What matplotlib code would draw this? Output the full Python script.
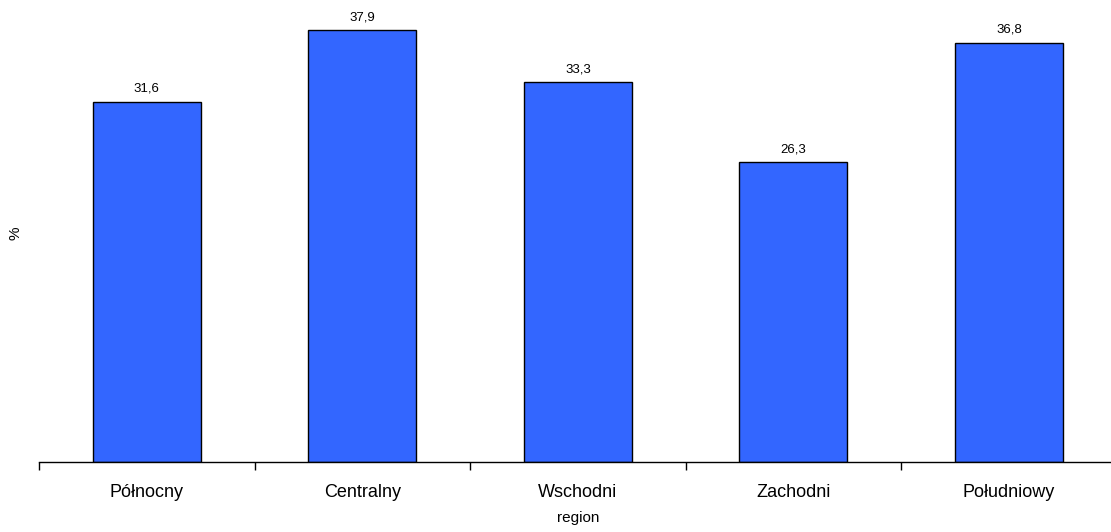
import numpy as np
import matplotlib.pyplot as plt

regions = ['Północny', 'Centralny', 'Wschodni', 'Zachodni', 'Południowy']
values = [31.6, 37.9, 33.3, 26.3, 36.8]

plt.rcParams['font.family'] = ['Liberation Sans', 'DejaVu Sans']

fig = plt.figure(figsize=(11.11, 5.32), dpi=100)
ax = fig.add_axes([0.0351, 0.1316, 0.970, 0.857])

x = np.arange(len(regions))
bars = ax.bar(x, values, width=0.5, color='#3366FF', edgecolor='black', linewidth=1.0)

for xi, v in zip(x, values):
    ax.annotate(f'{v:.1f}'.replace('.', ','), (xi, v), xytext=(0, 5),
                textcoords='offset points', ha='center', va='bottom', fontsize=9.5)

ax.set_xlim(-0.5, len(regions) - 0.5)
ax.set_ylim(0, 40)

for s in ['top', 'right', 'left']:
    ax.spines[s].set_visible(False)
ax.spines['bottom'].set_linewidth(1.0)
ax.set_yticks([])

ax.set_xticks(x)
ax.set_xticklabels(regions, fontsize=13)
ax.tick_params(axis='x', which='major', length=0, pad=16)
ax.set_xticks(np.arange(-0.5, len(regions)), minor=True)
ax.tick_params(axis='x', which='minor', length=6, width=1.0, direction='out')

ax.set_xlabel('region', fontsize=11, labelpad=7)
fig.text(0.0144, 0.562, '%', rotation=90, ha='center', va='center', fontsize=11)

fig.savefig('out.png', dpi=100)
